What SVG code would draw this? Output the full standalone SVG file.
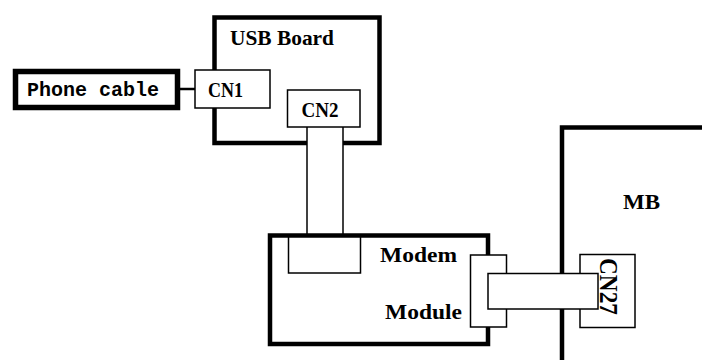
<svg xmlns="http://www.w3.org/2000/svg" width="702" height="360" viewBox="0 0 702 360">
<style>
.thick{fill:#fff;stroke:#000;stroke-width:4.5}
.thin{fill:#fff;stroke:#000;stroke-width:1.5}
.lbl{font-family:"Liberation Serif","DejaVu Serif",serif;font-weight:bold;fill:#000}
.mono{font-family:"Liberation Mono","DejaVu Sans Mono",monospace;font-weight:bold;fill:#000}
</style>
<rect width="702" height="360" fill="#fff"/>
<g id="usb-board">
<rect class="thick" x="214.5" y="17.5" width="165" height="125.5"/>
<text class="lbl" x="230" y="45" font-size="22" textLength="104" lengthAdjust="spacingAndGlyphs">USB Board</text>
</g>
<g id="cn1">
<rect class="thin" x="195" y="70" width="75" height="38"/>
<text class="lbl" x="208" y="96.5" font-size="21" textLength="35" lengthAdjust="spacingAndGlyphs">CN1</text>
</g>
<g id="cn2">
<rect class="thin" x="287.5" y="90" width="72.5" height="37"/>
<text class="lbl" x="301.5" y="117" font-size="21" textLength="37" lengthAdjust="spacingAndGlyphs">CN2</text>
</g>
<g id="phone-cable">
<rect x="15.5" y="71.5" width="162" height="36" fill="#fff" stroke="#000" stroke-width="5.5"/>
<text class="mono" x="27" y="96" font-size="20" textLength="132" lengthAdjust="spacingAndGlyphs">Phone cable</text>
</g>
<g id="modem-module">
<rect class="thick" x="270" y="235.5" width="218" height="108.5"/>
<rect class="thin" x="288.5" y="237" width="72" height="36"/>
<rect class="thin" x="470.5" y="255" width="36" height="72"/>
<text class="lbl" x="380" y="262" font-size="22" textLength="77" lengthAdjust="spacingAndGlyphs">Modem</text>
<text class="lbl" x="385" y="319" font-size="22" textLength="77" lengthAdjust="spacingAndGlyphs">Module</text>
</g>
<g id="mb">
<path d="M562 362 V127.5 H704" fill="none" stroke="#000" stroke-width="4.5"/>
<text class="lbl" x="623" y="209" font-size="22" textLength="37" lengthAdjust="spacingAndGlyphs">MB</text>
</g>
<g id="cn27">
<rect class="thin" x="580" y="254.5" width="55" height="73"/>
<text class="lbl" transform="translate(599.5,286.5) rotate(90)" x="0" y="0" font-size="26" text-anchor="middle" textLength="57" lengthAdjust="spacingAndGlyphs">CN27</text>
</g>
<g id="connectors">
<line x1="178" y1="89" x2="195" y2="89" stroke="#000" stroke-width="2.5"/>
<rect x="307" y="128" width="36" height="105" fill="#fff"/>
<line x1="307" y1="127" x2="307" y2="234" stroke="#000" stroke-width="1.5"/>
<line x1="343" y1="127" x2="343" y2="234" stroke="#000" stroke-width="1.5"/>
<rect class="thin" x="488" y="273.5" width="110" height="35.5"/>
</g>
</svg>
